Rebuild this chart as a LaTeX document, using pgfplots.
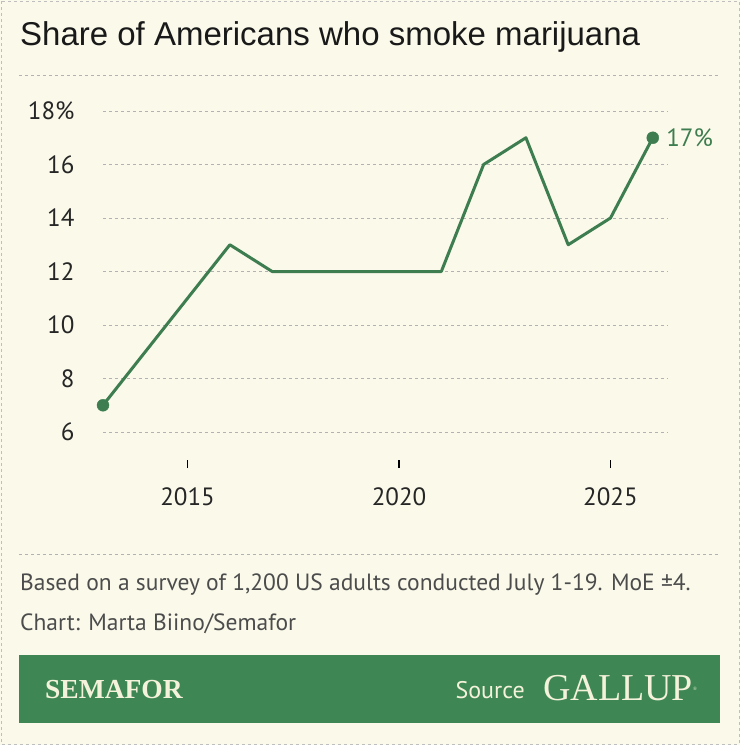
\documentclass[border=0pt]{standalone}
\usepackage{pgfplots}
\pgfplotsset{compat=1.18}
\usepackage{fontspec}
\setmainfont{PT Sans}
\newfontfamily\titlefont{Liberation Sans}
\newfontfamily\seriffont{Liberation Serif}
\definecolor{bg}{HTML}{FAF9EA}
\definecolor{lg}{HTML}{3D7D4F}
\definecolor{fg}{HTML}{3E8755}
\definecolor{cream}{HTML}{F4F2DA}
\begin{document}
\begin{tikzpicture}[x=1pt,y=1pt]
\fill[bg] (0,0) rectangle (740,-745);
\draw[gray!50,dashed,line width=0.8pt] (1,-1) rectangle (739,-744);
\node[anchor=base west,inner sep=0,font=\titlefont\fontsize{33}{36}\selectfont,text=black!90] at (20,-45) {Share of Americans who smoke marijuana};
\draw[gray!60,dashed,line width=0.8pt] (19,-75) -- (720,-75);
\draw[gray!60,dashed,line width=0.8pt] (19,-554) -- (720,-554);
\node[anchor=base west,inner sep=0,font=\fontsize{23.5}{26}\selectfont,text=black!70] at (20,-590) {Based on a survey of 1,200 US adults conducted July 1-19. MoE ±4.};
\node[anchor=base west,inner sep=0,font=\fontsize{23.5}{26}\selectfont,text=black!70] at (20,-630) {Chart: Marta Biino/Semafor};
\fill[fg] (19,-655) rectangle (720,-723);
\node[anchor=base west,inner sep=0,font=\seriffont\bfseries\fontsize{27.5}{30}\selectfont,text=cream] at (45,-698) {SEMAFOR};
\node[anchor=base east,inner sep=0,font=\fontsize{24}{26}\selectfont,text=cream] at (525,-698) {Source};
\node[anchor=base west,inner sep=0,font=\seriffont\fontsize{38}{40}\selectfont,text=cream] at (543,-700) {GALLUP\textsuperscript{\tiny\textregistered}};
\begin{axis}[
  at={(103pt,-468pt)}, anchor=south west,
  scale only axis, width=565pt, height=362.35pt,
  xmin=2013, xmax=2026.36, ymin=4.654, ymax=18.2,
  axis line style={draw=none},
  clip=false,
  ytick={6,8,10,12,14,16,18},
  yticklabels={6,8,10,12,14,16,18\%},
  xtick={2015,2020,2025},
  xticklabels={2015,2020,2025},
  xtick pos=bottom,
  ymajorgrids, grid style={gray!60,dashed,line width=0.8pt},
  major y tick style={draw=none},
  major x tick style={black,line width=1.2pt},
  tick align=inside, major tick length=8pt,
  ticklabel style={font=\fontsize{25}{28}\selectfont,text=black!85},
  yticklabel style={anchor=east,xshift=-25pt},
  xticklabel style={yshift=-16pt},
]
\addplot[lg,line width=3pt,line join=round] coordinates {
(2013,7)(2016,13)(2017,12)(2021,12)(2022,16)(2023,17)(2024,13)(2025,14)(2026,17)};
\addplot[lg,only marks,mark=*,mark size=6pt] coordinates {(2013,7)(2026,17)};
\node[anchor=west,text=lg,font=\fontsize{25}{28}\selectfont] at (axis cs:2026,17) {\hspace{10pt}17\%};
\end{axis}
\end{tikzpicture}
\end{document}
